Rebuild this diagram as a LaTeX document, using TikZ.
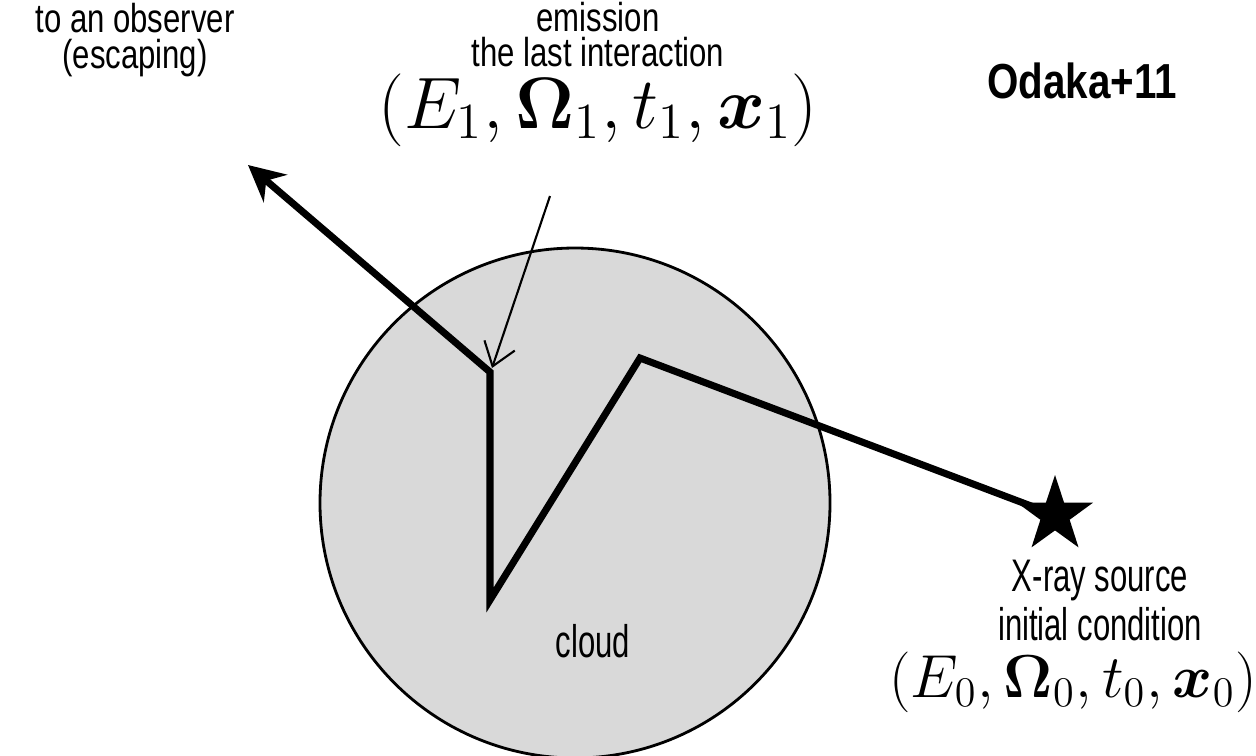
\documentclass[tikz,border=0pt]{standalone}
\usepackage[no-math]{fontspec}
\usepackage{amsmath}
\usepackage{tikz}
\usetikzlibrary{shapes.geometric, arrows.meta, positioning, calc}
\setmainfont{Liberation Sans}
\newfontfamily\narrowsf[FakeStretch=0.68]{Liberation Sans}
\newfontfamily\toplblsf[FakeStretch=0.77]{Liberation Sans}
\newfontfamily\refsf[FakeStretch=0.82]{Liberation Sans}
\definecolor{cloudgray}{RGB}{217,217,217}

\begin{document}
\begin{tikzpicture}[
  lbl/.style={font=\narrowsf\fontsize{13}{14}\selectfont, inner sep=0pt, anchor=base},
  toplbl/.style={font=\toplblsf\fontsize{11.5}{12}\selectfont, inner sep=0pt, anchor=base},
  eq/.style={inner sep=0pt, anchor=base},
  track/.style={line width=2pt, line join=miter},
  pointer/.style={line width=0.6pt, -{Straight Barb[length=2.2mm, width=3.2mm]}},
]
\useasboundingbox (0,0) rectangle (12.56,-7.55);

% cloud
\node[circle, draw, line width=0.8pt, fill=cloudgray, minimum size=5.1cm, inner sep=0pt] (cloud) at (5.75,-5.03) {};
\node[lbl] (cloudlbl) at (5.93,-6.57) {cloud};

% photon track
\coordinate (hit2) at (6.40,-3.58);
\coordinate (hit1) at (4.90,-6.00);
\coordinate (emit) at (4.90,-3.72);
\coordinate (obs) at (2.48,-1.65);
\node[star, star points=5, star point ratio=2.6, fill=black, minimum size=0.8cm, inner sep=0pt] (src) at (10.55,-5.15) {};
\draw[track, -{Stealth[length=3.6mm, width=3.6mm, inset=1.2mm]}] (src.center) -- (hit2) -- (hit1) -- (emit) -- (obs);

% labels
\node[toplbl] (observer) at (1.35,-0.32) {to an observer};
\node[toplbl] (escaping) at ($(observer.base)+(0,-0.36)$) {(escaping)};
\node[toplbl] (emission) at (5.98,-0.31) {emission};
\node[toplbl] (lastint) at ($(emission.base)+(0,-0.35)$) {the last interaction};
\node[eq, font=\fontsize{20}{22}\selectfont] (state1) at (5.98,-1.28) {$(E_1, \boldsymbol{\Omega}_1, t_1, \boldsymbol{x}_1)$};
\node[font=\refsf\bfseries\fontsize{14}{15}\selectfont, inner sep=0pt] (ref) at (10.82,-0.81) {Odaka+11};
\node[lbl] (source) at (11.00,-5.91) {X-ray source};
\node[lbl] (initcond) at ($(source.base)+(0,-0.49)$) {initial condition};
\node[eq, font=\fontsize{17.5}{19}\selectfont] (state0) at (10.73,-6.97) {$(E_0, \boldsymbol{\Omega}_0, t_0, \boldsymbol{x}_0)$};

\coordinate (ptr) at (5.50,-1.96);
\draw[pointer] (ptr) -- ($(emit)+(0.02,0.04)$);
\end{tikzpicture}
\end{document}
